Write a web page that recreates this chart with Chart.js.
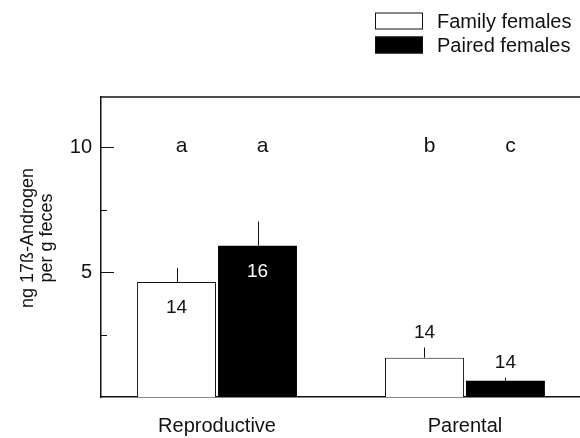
<!DOCTYPE html>
<html>
<head>
<meta charset="utf-8">
<script src="https://cdn.jsdelivr.net/npm/chart.js@4.4.1/dist/chart.umd.min.js"></script>
<style>
  html, body { margin: 0; padding: 0; background: #fff; }
  #wrap { width: 580px; height: 438px; }
</style>
</head>
<body>
<div id="wrap"><canvas id="c" width="580" height="438"></canvas></div>
<script>
// Faecal 17ß-androgen per group (mean, error, sample size, significance letter)
const categories = ['Reproductive', 'Parental'];
const seriesNames = ['Family females', 'Paired females'];
const familyMeans = [4.6, 1.57];
const familyErrors = [0.56, 0.41];
const pairedMeans = [6.05, 0.65];
const pairedErrors = [0.97, 0.12];
const familyN = [14, 14];
const pairedN = [16, 14];
const familyLetters = ['a', 'b'];
const pairedLetters = ['a', 'c'];
const yTicks = [2.5, 5, 7.5, 10];
const yLabelled = [5, 10];
const yTitle = ['ng 17ß-Androgen', 'per g feces'];

const FONT = 'Arial, "Liberation Sans", sans-serif';
const INK = '#111';

const toPoints = arr => arr.map((v, i) => ({ x: i + 1, y: v }));

const extras = [
  { errors: familyErrors, n: familyN, letters: familyLetters },
  { errors: pairedErrors, n: pairedN, letters: pairedLetters }
];

const annotate = {
  id: 'annotate',
  afterDatasetsDraw(chart) {
    const { ctx, chartArea: a, scales: { y } } = chart;
    ctx.save();
    ctx.strokeStyle = INK;

    // top frame line
    ctx.lineWidth = 1.5;
    ctx.beginPath();
    ctx.moveTo(a.left, a.top);
    ctx.lineTo(a.right, a.top);
    ctx.stroke();

    // inward tick marks on the value axis
    ctx.lineWidth = 1;
    yTicks.forEach(v => {
      const py = Math.round(y.getPixelForValue(v)) + 0.5;
      const len = yLabelled.includes(v) ? 13 : 6;
      ctx.beginPath();
      ctx.moveTo(a.left, py);
      ctx.lineTo(a.left + len, py);
      ctx.stroke();
    });

    // two-line value-axis title, read bottom to top
    ctx.save();
    ctx.fillStyle = INK;
    ctx.font = '18px ' + FONT;
    ctx.textAlign = 'center';
    ctx.textBaseline = 'alphabetic';
    const midY = (a.top + a.bottom) / 2 - 9;
    yTitle.forEach((line, li) => {
      ctx.save();
      ctx.translate(33 + li * 19, midY);
      ctx.rotate(-Math.PI / 2);
      ctx.fillText(line, 0, 0);
      ctx.restore();
    });
    ctx.restore();

    chart.data.datasets.forEach((ds, di) => {
      const meta = chart.getDatasetMeta(di);
      const ex = extras[di];
      meta.data.forEach((bar, i) => {
        const v = ds.data[i].y;
        const e = ex.errors[i];
        const xc = Math.round(bar.x) + 0.5;
        const yTop = y.getPixelForValue(v + e);
        // error bar (upper arm only)
        ctx.strokeStyle = INK;
        ctx.lineWidth = 1;
        ctx.beginPath();
        ctx.moveTo(xc, bar.y);
        ctx.lineTo(xc, yTop);
        ctx.stroke();

        // sample size
        ctx.font = '19px ' + FONT;
        ctx.textAlign = 'center';
        ctx.textBaseline = 'middle';
        if (v > 3) {
          ctx.fillStyle = ds.backgroundColor === '#000' ? '#fff' : INK;
          ctx.fillText(String(ex.n[i]), bar.x, bar.y + 26);
        } else {
          ctx.fillStyle = INK;
          ctx.fillText(String(ex.n[i]), bar.x, yTop - 15);
        }

        // significance letter
        ctx.font = '21px ' + FONT;
        ctx.fillStyle = INK;
        ctx.fillText(ex.letters[i], bar.x + 5, y.getPixelForValue(10.05));
      });
    });

    // legend, top right
    const lx = chart.width - 205;
    const rows = [21, 45];
    chart.data.datasets.forEach((ds, di) => {
      const cy = rows[di];
      ctx.fillStyle = ds.backgroundColor;
      ctx.fillRect(lx, cy - 8.5, 48, 17);
      ctx.strokeStyle = INK;
      ctx.lineWidth = 1;
      ctx.strokeRect(lx + 0.5, cy - 8, 47, 16);
      ctx.fillStyle = INK;
      ctx.font = '20px ' + FONT;
      ctx.textAlign = 'left';
      ctx.textBaseline = 'middle';
      ctx.fillText(ds.label, lx + 62, cy + 1);
    });
    ctx.restore();
  }
};

new Chart(document.getElementById('c'), {
  type: 'bar',
  data: {
    datasets: [
      {
        label: seriesNames[0],
        data: toPoints(familyMeans),
        backgroundColor: '#fff',
        borderColor: INK,
        borderWidth: 1,
        categoryPercentage: 0.653,
        barPercentage: 0.975
      },
      {
        label: seriesNames[1],
        data: toPoints(pairedMeans),
        backgroundColor: '#000',
        borderColor: '#000',
        borderWidth: 0,
        categoryPercentage: 0.653,
        barPercentage: 0.975
      }
    ]
  },
  options: {
    responsive: false,
    animation: false,
    devicePixelRatio: 1,
    layout: { padding: { top: 97, right: 0, bottom: 0, left: 0 } },
    plugins: { legend: { display: false }, tooltip: { enabled: false } },
    scales: {
      x: {
        type: 'linear',
        offset: false,
        min: 0.532,
        max: 2.464,
        afterBuildTicks: s => { s.ticks = categories.map((_, i) => ({ value: i + 1 })); },
        afterFit: s => { s.height = 41; },
        ticks: {
          callback: v => categories[Math.round(v) - 1] || '',
          color: INK,
          font: { family: FONT, size: 20 },
          padding: 17,
          maxRotation: 0,
          autoSkip: false
        },
        grid: { display: false, drawTicks: false },
        border: { display: true, color: INK, width: 1.5 }
      },
      y: {
        min: 0,
        max: 12,
        afterBuildTicks: s => { s.ticks = yTicks.map(v => ({ value: v })); },
        afterFit: s => { s.width = 101; },
        ticks: {
          callback: v => (yLabelled.includes(v) ? String(v) : ''),
          color: INK,
          font: { family: FONT, size: 20 },
          padding: 9
        },
        grid: { display: false, drawTicks: false },
        border: { display: true, color: INK, width: 1.5 }
      }
    }
  },
  plugins: [annotate]
});
</script>
</body>
</html>
